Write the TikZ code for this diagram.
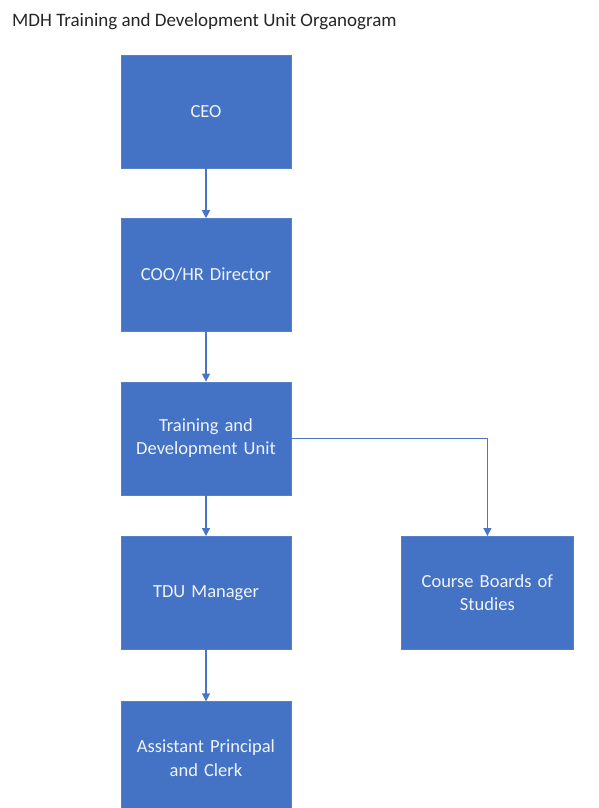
\documentclass[tikz,border=0pt]{standalone}
\usepackage{fontspec}
\setmainfont{Carlito}
\usepackage{tikz}
\usetikzlibrary{arrows.meta,positioning}
\definecolor{orgblue}{HTML}{4472C4}
\definecolor{orgline}{HTML}{4A74C6}
\tikzset{
	org chart/.style={
		x=1pt, y=-1pt,
		node distance=50pt and 110pt,
		ar/.style={draw=orgline, line width=1.2pt,
			-{Triangle[width=8pt,length=8pt]}},
		},
	orgbox/.style={draw=orgblue!90!white, fill=orgblue, text=white!92!orgblue,
		minimum width=170pt, minimum height=113pt, inner sep=2pt,
		text width=166pt, align=center, font=\fontsize{18.5}{23.5}\selectfont},
	orgtitle/.style={anchor=base west, inner sep=0pt,
		font=\fontsize{19}{22}\selectfont, text=black!85}
}

\begin{document}
\begin{tikzpicture}[org chart]
		\useasboundingbox (0,0) rectangle (598,808);
		\clip (0,0) rectangle (598,808);
		\node[orgtitle] (title) at (12,27) {MDH Training and Development Unit Organogram};
		\node[orgbox] (ceo) at (206,111.5) {CEO};
		\node[orgbox, below=50pt of ceo] (coo) {COO/HR Director};
		\node[orgbox, below=50pt of coo] (tdu) {Training and\\Development Unit};
		\node[orgbox, below=41pt of tdu] (mgr) {TDU Manager};
		\node[orgbox, minimum width=172pt, right=110pt of mgr] (cbs) {Course Boards of\\Studies};
		\node[orgbox, below=52pt of mgr] (apc) {Assistant Principal\\and Clerk};
		\draw[ar] (ceo) -- (coo);
		\draw[ar] (coo) -- (tdu);
		\draw[ar] (tdu) -- (mgr);
		\draw[ar] (tdu.east) -| (cbs.north);
		\draw[ar] (mgr) -- (apc);
	\end{tikzpicture}
\end{document}
